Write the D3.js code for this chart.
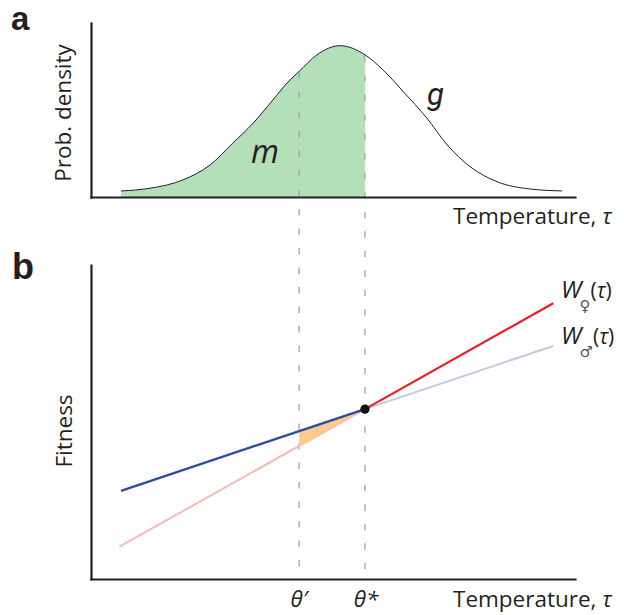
<!DOCTYPE html>
<html>
<head>
<meta charset="utf-8">
<script src="https://cdn.jsdelivr.net/npm/d3@7"></script>
<style>
  html, body { margin: 0; padding: 0; background: #fff; }
  svg { display: block; }
  text { font-family: "Open Sans", "Noto Sans", sans-serif; fill: #231f20; }
</style>
</head>
<body>
<svg id="chart" width="624" height="615"></svg>
<script>
// Temperature-dependent sex determination: distribution of temperatures (a)
// and sex-specific fitness as a function of temperature (b).

// Panel a: probability density g of temperature
const densityTemp  = [6.2, 12.2, 19.0, 24.6, 29.3, 33.5, 37.6, 40.5, 43.0, 46.7, 51.4, 56.6, 60.3, 64.5, 69.4, 73.6, 78.3, 83.9, 90.7, 97.3];
const densityValue = [0.040, 0.058, 0.113, 0.212, 0.356, 0.488, 0.642, 0.753, 0.830, 0.940, 1.000, 0.940, 0.841, 0.697, 0.521, 0.344, 0.201, 0.101, 0.053, 0.040];

// Threshold temperatures
const thetaPrime = 43.0;
const thetaStar  = 56.6;
const thresholdLabels = ["θ′", "θ*"];

// Panel b: fitness of females and males
const femaleTemp    = [5.85, 56.6, 95.5];
const femaleFitness = [0.103, 0.541, 0.878];
const maleTemp      = [6.2, 56.6, 95.5];
const maleFitness   = [0.281, 0.541, 0.742];

const colors = {
  ink: "#231f20",
  fill: "#b3e0b9",
  maleDark: "#2e4d9f",
  maleLight: "#c3c9e5",
  femaleDark: "#ed1c24",
  femaleLight: "#f8b9b7",
  gain: "#fdca8a",
  dash: "#a7a7a7"
};

const svg = d3.select("#chart");

const x = d3.scaleLinear().domain([0, 100]).range([91, 575]);
const yA = d3.scaleLinear().domain([0, 1.15]).range([197, 23]);
const yB = d3.scaleLinear().domain([0, 1]).range([579, 265]);

const densityAt = d3.scaleLinear().domain(densityTemp).range(densityValue);
const maleAt = d3.scaleLinear().domain(maleTemp).range(maleFitness);
const femaleAt = d3.scaleLinear().domain(femaleTemp).range(femaleFitness);

const densityPts = densityTemp.map((t, i) => [t, densityValue[i]]);

// ---------- Panel a ----------
svg.append("clipPath").attr("id", "belowStar")
  .append("rect")
  .attr("x", 0).attr("y", 0)
  .attr("width", x(thetaStar)).attr("height", 615);

svg.append("path")
  .datum(densityPts)
  .attr("clip-path", "url(#belowStar)")
  .attr("fill", colors.fill)
  .attr("d", d3.area()
    .x(d => x(d[0]))
    .y0(yA(0))
    .y1(d => yA(d[1]))
    .curve(d3.curveMonotoneX));

// dashed threshold guides spanning both panels
[thetaPrime, thetaStar].forEach(t => {
  svg.append("line")
    .attr("x1", x(t)).attr("x2", x(t))
    .attr("y1", yA(densityAt(t)) + 1)
    .attr("y2", yB(0))
    .attr("stroke", colors.dash)
    .attr("stroke-width", 1.4)
    .attr("stroke-dasharray", "6.5,13");
});

svg.append("path")
  .datum(densityPts)
  .attr("fill", "none")
  .attr("stroke", colors.ink)
  .attr("stroke-width", 1)
  .attr("d", d3.line()
    .x(d => x(d[0]))
    .y(d => yA(d[1]))
    .curve(d3.curveMonotoneX));

function drawAxes(yScale) {
  const g = svg.append("g");
  g.append("g")
    .attr("transform", `translate(0,${yScale(0)})`)
    .call(d3.axisBottom(x).tickValues([]).tickSizeOuter(0));
  g.append("g")
    .attr("transform", `translate(${x(0)},0)`)
    .call(d3.axisLeft(yScale).tickValues([]).tickSizeOuter(0));
  g.selectAll(".domain")
    .attr("stroke", colors.ink)
    .attr("stroke-width", 2.2)
    .attr("stroke-linecap", "square");
  return g;
}
drawAxes(yA);

svg.append("text").attr("x", 11).attr("y", 30)
  .style("font-family", "'Liberation Sans', Arial, sans-serif")
  .style("font-weight", "bold").style("font-size", "33px")
  .text("a");

svg.append("text")
  .attr("transform", `translate(71,${113}) rotate(-90)`)
  .attr("text-anchor", "middle")
  .style("font-size", "22.5px")
  .text("Prob. density");

svg.append("text").attr("x", 453).attr("y", 224)
  .style("font-size", "22.5px")
  .text("Temperature, ")
  .append("tspan").style("font-style", "italic").text("τ");

svg.append("text").attr("x", 251).attr("y", 163)
  .style("font-size", "32px").style("font-style", "italic")
  .text("m");
svg.append("text").attr("x", 427).attr("y", 105)
  .style("font-family", "Roboto, sans-serif")
  .style("font-size", "31px").style("font-style", "italic")
  .text("g");

// ---------- Panel b ----------
const lineB = d3.line().x(d => x(d[0])).y(d => yB(d[1]));

function segment(temps, values, from, to) {
  const f = d3.scaleLinear().domain(temps).range(values);
  const pts = temps.filter(t => t > from && t < to).map(t => [t, f(t)]);
  return [[from, f(from)], ...pts, [to, f(to)]];
}

const tMinF = femaleTemp[0], tMaxF = femaleTemp[femaleTemp.length - 1];
const tMinM = maleTemp[0], tMaxM = maleTemp[maleTemp.length - 1];

// faded parts
svg.append("path")
  .attr("d", lineB(segment(femaleTemp, femaleFitness, tMinF, thetaStar)))
  .attr("fill", "none").attr("stroke", colors.femaleLight).attr("stroke-width", 2);
svg.append("path")
  .attr("d", lineB(segment(maleTemp, maleFitness, thetaStar, tMaxM)))
  .attr("fill", "none").attr("stroke", colors.maleLight).attr("stroke-width", 2);

// fitness gain between θ′ and θ*
const gainTemps = [thetaPrime, thetaStar];
svg.append("path")
  .datum(gainTemps)
  .attr("fill", colors.gain)
  .attr("d", d3.area()
    .x(t => x(t))
    .y0(t => yB(femaleAt(t)))
    .y1(t => yB(maleAt(t))));

// highlighted parts
svg.append("path")
  .attr("d", lineB(segment(maleTemp, maleFitness, tMinM, thetaStar)))
  .attr("fill", "none").attr("stroke", colors.maleDark).attr("stroke-width", 2.4);
svg.append("path")
  .attr("d", lineB(segment(femaleTemp, femaleFitness, thetaStar, tMaxF)))
  .attr("fill", "none").attr("stroke", colors.femaleDark).attr("stroke-width", 2.2);

svg.append("circle")
  .attr("cx", x(thetaStar)).attr("cy", yB(maleAt(thetaStar)))
  .attr("r", 4.6).attr("fill", "#111");

drawAxes(yB);

svg.append("text").attr("x", 12).attr("y", 279)
  .style("font-family", "'Liberation Sans', Arial, sans-serif")
  .style("font-weight", "bold").style("font-size", "36px")
  .text("b");

svg.append("text")
  .attr("transform", `translate(72,${431}) rotate(-90)`)
  .attr("text-anchor", "middle")
  .style("font-size", "22.5px")
  .text("Fitness");

svg.append("text").attr("x", 453).attr("y", 607)
  .style("font-size", "22.5px")
  .text("Temperature, ")
  .append("tspan").style("font-style", "italic").text("τ");

[thetaPrime, thetaStar].forEach((t, i) => {
  svg.append("text")
    .attr("x", x(t) + (i === 0 ? 0 : 1)).attr("y", 607)
    .attr("text-anchor", "middle")
    .style("font-size", "22.5px").style("font-style", "italic")
    .text(thresholdLabels[i]);
});

// series labels W♀(τ), W♂(τ), each a single text with a subscript symbol
function fitnessLabel(baseline, symbol) {
  const t = svg.append("text").attr("x", 561).attr("y", baseline)
    .style("font-size", "24px");
  t.append("tspan").style("font-style", "italic").text("W");
  t.append("tspan")
    .attr("dx", -2).attr("dy", 13)
    .style("font-family", "'DejaVu Sans', sans-serif")
    .style("font-size", "15px").style("fill", "#555")
    .text(symbol);
  t.append("tspan").attr("dy", -13)
    .style("font-size", "21px").text("(");
  t.append("tspan").style("font-style", "italic")
    .style("font-size", "21px").text("τ");
  t.append("tspan").style("font-size", "21px").text(")");
}
fitnessLabel(298, "♀");
fitnessLabel(344, "♂");
</script>
</body>
</html>
